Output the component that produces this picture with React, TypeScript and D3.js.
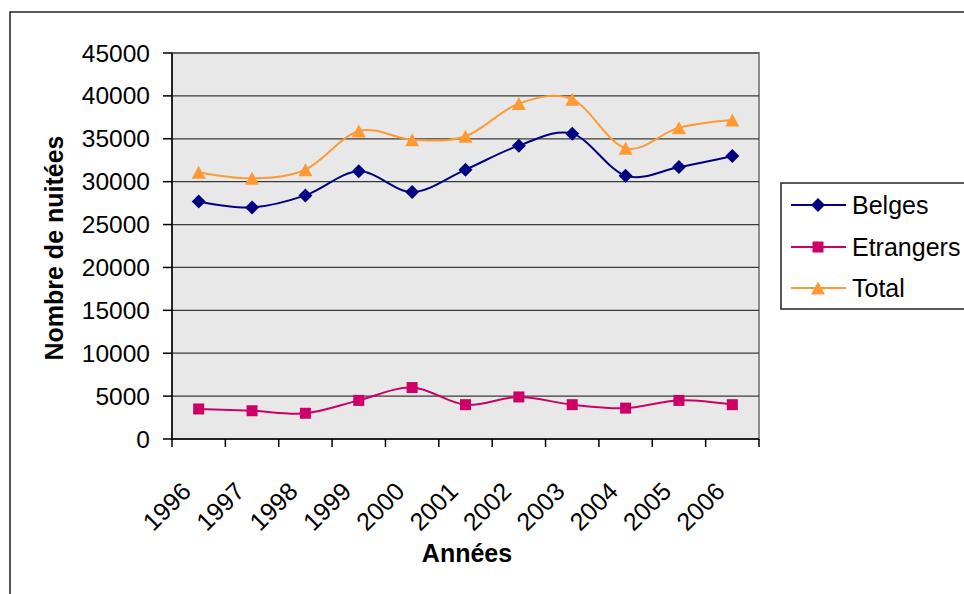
import React from 'react';
import * as d3 from 'd3';

const years = ['1996', '1997', '1998', '1999', '2000', '2001', '2002', '2003', '2004', '2005', '2006'];
const belges = [27700, 27000, 28400, 31200, 28800, 31400, 34200, 35600, 30700, 31700, 33000];
const etrangers = [3500, 3300, 3000, 4500, 6000, 4000, 4900, 4000, 3600, 4500, 4000];
const total = [31100, 30400, 31400, 35900, 34900, 35300, 39100, 39600, 33900, 36300, 37200];
const yTicks = [0, 5000, 10000, 15000, 20000, 25000, 30000, 35000, 40000, 45000];

const series = [
  { name: 'Belges', values: belges, color: '#000080', marker: 'diamond' },
  { name: 'Etrangers', values: etrangers, color: '#CC0066', marker: 'square' },
  { name: 'Total', values: total, color: '#FF9933', marker: 'triangle' },
];

const W = 964;
const H = 594;
const plot = { left: 172, right: 759, top: 53, bottom: 439 };
const font = '"Liberation Sans", Arial, sans-serif';

function markerPath(kind: string, cx: number, cy: number) {
  if (kind === 'diamond') {
    const r = 7;
    return `M${cx},${cy - r}L${cx + r},${cy}L${cx},${cy + r}L${cx - r},${cy}Z`;
  }
  if (kind === 'square') {
    const r = 5.5;
    return `M${cx - r},${cy - r}h${2 * r}v${2 * r}h${-2 * r}Z`;
  }
  const w = 7;
  return `M${cx},${cy - 6.5}L${cx + w},${cy + 6.5}L${cx - w},${cy + 6.5}Z`;
}

export default function App() {
  const x = d3.scaleBand().domain(years).range([plot.left, plot.right]);
  const y = d3.scaleLinear().domain([0, 45000]).range([plot.bottom, plot.top]);
  const cx = (d: string) => (x(d) as number) + x.bandwidth() / 2;

  const line = d3
    .line<number>()
    .x((_, i) => cx(years[i]))
    .y((v) => y(v))
    .curve(d3.curveCatmullRom.alpha(0));

  const legendRows = [205, 247, 288];

  return (
    <div style={{ position: 'absolute', left: 0, top: 0 }}>
      <svg width={W} height={H} style={{ display: 'block', fontFamily: font }}>
        <rect x={0} y={0} width={W} height={H} fill="#fff" />
        {/* outer chart border */}
        <rect x={10} y={12} width={W + 20} height={H + 20} fill="none" stroke="#222" strokeWidth={1.5} />

        {/* plot area */}
        <rect
          x={plot.left}
          y={plot.top}
          width={plot.right - plot.left}
          height={plot.bottom - plot.top}
          fill="#E8E8E8"
          stroke="#8c8c8c"
          strokeWidth={2}
        />

        {/* grid lines */}
        {yTicks.slice(1).map((t) => (
          <line key={t} x1={plot.left} x2={plot.right} y1={y(t)} y2={y(t)} stroke="#3a3a3a" strokeWidth={1.2} />
        ))}

        {/* y axis */}
        <line x1={plot.left} x2={plot.left} y1={plot.top} y2={plot.bottom} stroke="#000" strokeWidth={1.5} />
        {yTicks.map((t) => (
          <g key={t}>
            <line x1={plot.left - 9} x2={plot.left} y1={y(t)} y2={y(t)} stroke="#000" strokeWidth={1.5} />
            <text x={150} y={y(t)} dy="0.35em" textAnchor="end" fontSize={24.5} fill="#000">
              {t}
            </text>
          </g>
        ))}

        {/* x axis */}
        <line x1={plot.left} x2={plot.right} y1={plot.bottom} y2={plot.bottom} stroke="#000" strokeWidth={1.5} />
        {[...years.map((d) => x(d) as number), plot.right].map((px, i) => (
          <line key={i} x1={px} x2={px} y1={plot.bottom} y2={plot.bottom + 8} stroke="#000" strokeWidth={1.5} />
        ))}
        {years.map((d) => (
          <text
            key={d}
            transform={`translate(${cx(d) - 6},${493}) rotate(-45)`}
            textAnchor="end"
            fontSize={25}
            fill="#000"
          >
            {d}
          </text>
        ))}

        {/* series */}
        {series.map((s) => (
          <g key={s.name}>
            <path d={line(s.values) || ''} fill="none" stroke={s.color} strokeWidth={2} />
            {s.values.map((v, i) => (
              <path key={i} d={markerPath(s.marker, cx(years[i]), y(v))} fill={s.color} />
            ))}
          </g>
        ))}

        {/* axis titles */}
        <text
          transform={`translate(63,248) rotate(-90)`}
          textAnchor="middle"
          fontSize={25}
          fontWeight="bold"
          fill="#000"
        >
          Nombre de nuitées
        </text>
        <text x={467} y={562} textAnchor="middle" fontSize={25} fontWeight="bold" fill="#000">
          Années
        </text>

        {/* legend */}
        <rect x={781} y={183} width={W} height={126} fill="#fff" stroke="#222" strokeWidth={1.5} />
        {series.map((s, i) => (
          <g key={s.name}>
            <line x1={791} x2={846} y1={legendRows[i]} y2={legendRows[i]} stroke={s.color} strokeWidth={2} />
            <path d={markerPath(s.marker, 818, legendRows[i])} fill={s.color} />
            <text x={852} y={legendRows[i]} dy="0.35em" fontSize={25} fill="#000">
              {s.name}
            </text>
          </g>
        ))}
      </svg>
    </div>
  );
}
